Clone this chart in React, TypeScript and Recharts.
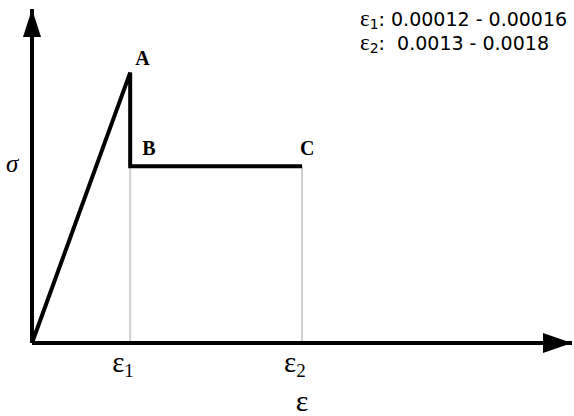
import React from 'react';
import {
  LineChart,
  Line,
  XAxis,
  YAxis,
  ReferenceLine,
  ReferenceDot,
  Customized
} from 'recharts';

// schematic strain / stress units (not to scale)
const strainPoints = [0, 1, 1, 2.75];
const stressPoints = [0, 1.53, 1, 1];
const pointNames = ['', 'A', 'B', 'C'];
const strainTicks = [1, 2.75];
const tickSubscripts = ['1', '2'];
const strainMax = 5.5;
const stressMax = 1.89;
const plateauStress = 1;
const rangeTexts = ['0.00012 - 0.00016', ' 0.0013 - 0.0018'];

const data = strainPoints.map((x, i) => ({
  strain: x,
  stress: stressPoints[i],
  name: pointNames[i]
}));

const labelOffsets: Record<string, [number, number]> = {
  A: [5, -8],
  B: [12, -11],
  C: [-2, -11]
};

const StrainTick = (props: any) => {
  const { x, y, payload } = props;
  const idx = strainTicks.indexOf(payload.value);
  return (
    <text x={x - 18} y={y + 21} fontFamily="Liberation Serif" fill="#000">
      <tspan fontSize={29}>ε</tspan>
      <tspan fontSize={19} dy={5}>{tickSubscripts[idx]}</tspan>
    </text>
  );
};

const PointLabel = (props: any) => {
  const { x, y, index } = props;
  const name = pointNames[index];
  if (!name) return null;
  const [dx, dy] = labelOffsets[name];
  return (
    <text
      x={x + dx}
      y={y + dy}
      fontFamily="Liberation Serif"
      fontWeight="bold"
      fontSize={20}
      fill="#000"
    >
      {name}
    </text>
  );
};

const RangeNote = () => (
  <g fill="#000">
    {rangeTexts.map((r, i) => (
      <text
        key={i}
        x={360}
        y={26 + i * 24}
        fontFamily="DejaVu Sans"
        fontSize={19}
        style={{ whiteSpace: 'pre' }}
      >
        <tspan fontFamily="Liberation Serif" fontSize={23}>ε</tspan>
        <tspan fontSize={14} dy={3}>{i + 1}</tspan>
        <tspan dy={-3}>{': ' + r}</tspan>
      </text>
    ))}
  </g>
);

const xArrow = (p: any) => (
  <polygon
    points={`${p.cx},${p.cy} ${p.cx - 29},${p.cy - 10} ${p.cx - 29},${p.cy + 10}`}
    fill="#000"
  />
);

const yArrow = (p: any) => (
  <polygon
    points={`${p.cx},${p.cy} ${p.cx - 9},${p.cy + 28} ${p.cx + 9},${p.cy + 28}`}
    fill="#000"
  />
);

const sigmaLabel = (p: any) => (
  <text
    x={p.cx - 26}
    y={p.cy + 6}
    fontFamily="Liberation Serif"
    fontStyle="italic"
    fontSize={25}
    fill="#000"
  >
    σ
  </text>
);

export default function App() {
  return (
    <div style={{ position: 'absolute', left: 0, top: 0, background: '#fff' }}>
      <LineChart
        width={574}
        height={416}
        data={data}
        margin={{ top: 9, right: 2, left: 32, bottom: 1 }}
      >
        <XAxis
          dataKey="strain"
          type="number"
          domain={[0, strainMax]}
          ticks={strainTicks}
          tickLine={false}
          tick={<StrainTick />}
          height={72}
          axisLine={{ stroke: '#000', strokeWidth: 4 }}
          label={{
            value: 'ε',
            position: 'insideBottom',
            offset: 4,
            fontFamily: 'Liberation Serif',
            fontSize: 30,
            fill: '#000'
          }}
        />
        <YAxis type="number" domain={[0, stressMax]} hide />
        {strainTicks.map((t) => (
          <ReferenceLine
            key={t}
            segment={[
              { x: t, y: plateauStress },
              { x: t, y: 0 }
            ]}
            stroke="#cfcfcf"
            strokeWidth={2}
          />
        ))}
        <ReferenceLine
          segment={[
            { x: 0, y: 0 },
            { x: 0, y: stressMax }
          ]}
          stroke="#000"
          strokeWidth={4}
        />
        <Line
          type="linear"
          dataKey="stress"
          stroke="#000"
          strokeWidth={4}
          dot={false}
          activeDot={false}
          label={<PointLabel />}
          isAnimationActive={false}
        />
        <ReferenceDot x={strainMax} y={0} shape={xArrow} />
        <ReferenceDot x={0} y={stressMax} shape={yArrow} />
        <ReferenceDot x={0} y={plateauStress} shape={sigmaLabel} />
        <Customized component={RangeNote} />
      </LineChart>
    </div>
  );
}
